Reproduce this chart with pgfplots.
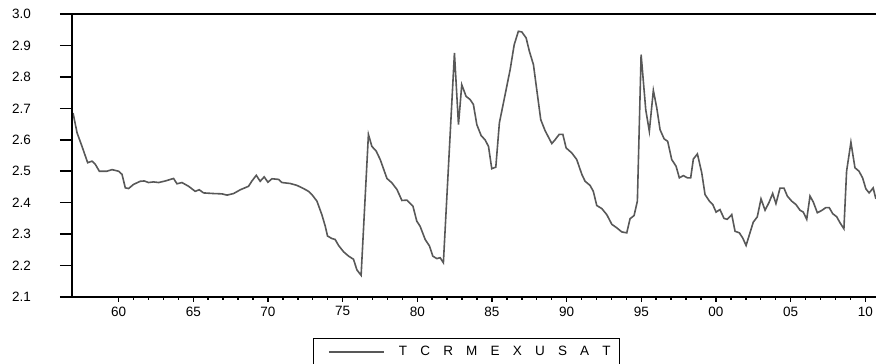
\documentclass[border=0pt]{standalone}
\usepackage{fontspec}
\setmainfont{Liberation Sans}
\usepackage{pgfplots}
\pgfplotsset{compat=1.18}
\definecolor{ser}{RGB}{88,88,88}
\newcommand{\gp}{\hspace{13.2bp}}
\begin{document}
\begin{tikzpicture}
\pgfplotsset{every axis/.append style={scale only axis, width=804bp, height=283bp,
  ymin=2.1, ymax=3.0, xmin=1956.88, xmax=2010.72}}
\begin{axis}[
  axis x line=box, axis y line=left,
  axis line style={-, line width=2bp, black},
  xtick={1960,1965,...,2010},
  xticklabels={60,65,70,75,80,85,90,95,00,05,10},
  minor x tick num=4,
  xtick pos=left, xtick align=outside,
  ytick=\empty,
  major tick length=5bp, minor tick length=3bp,
  tick style={black, line width=1.5bp},
  xticklabel style={font=\fontsize{13.5bp}{15bp}\selectfont, yshift=-1.2bp},
  legend style={at={(0.491,-0.146)}, anchor=north, draw=black, line width=1bp,
    inner xsep=0bp, inner ysep=7.5bp, font=\fontsize{13.5bp}{15bp}\selectfont,
    nodes={inner sep=0pt}},
  legend cell align=left,
  legend image code/.code={\draw[#1, line width=1.6bp] (0bp,0bp) -- (55bp,0bp); \path[draw=none] (-15bp,0bp) -- (70bp,0bp);},
]
\addplot[ser, line width=1.6bp] coordinates {
(1956.95,2.685) (1957.22,2.622) (1957.55,2.579) (1957.93,2.527) (1958.22,2.532)
(1958.44,2.522) (1958.71,2.500) (1959.22,2.500) (1959.56,2.505) (1960.0,2.500)
(1960.23,2.490) (1960.45,2.447) (1960.67,2.445) (1961.0,2.458) (1961.45,2.468)
(1961.72,2.469) (1962.0,2.464) (1962.34,2.466) (1962.68,2.464) (1963.13,2.469)
(1963.68,2.477) (1963.91,2.460) (1964.24,2.464) (1964.69,2.452) (1965.13,2.436)
(1965.40,2.441) (1965.69,2.431) (1966.36,2.429) (1966.92,2.428) (1967.26,2.424)
(1967.70,2.429) (1968.15,2.441) (1968.70,2.452) (1968.93,2.469) (1969.22,2.487)
(1969.48,2.468) (1969.75,2.482) (1970.0,2.465) (1970.27,2.476) (1970.71,2.474)
(1970.94,2.464) (1971.49,2.461) (1971.94,2.455) (1972.38,2.445) (1972.72,2.436)
(1972.94,2.426) (1973.28,2.405) (1973.61,2.362) (1973.84,2.325) (1973.99,2.294)
(1974.28,2.286) (1974.50,2.283) (1974.73,2.264) (1975.06,2.244) (1975.40,2.230)
(1975.73,2.220) (1975.96,2.186) (1976.24,2.169) (1976.73,2.617) (1976.96,2.579)
(1977.25,2.564) (1977.52,2.537) (1977.97,2.477) (1978.30,2.463) (1978.64,2.442)
(1978.97,2.407) (1979.30,2.408) (1979.71,2.389) (1979.97,2.341) (1980.19,2.325)
(1980.53,2.283) (1980.82,2.262) (1981.04,2.230) (1981.31,2.222) (1981.53,2.225)
(1981.75,2.209) (1982.49,2.876) (1982.76,2.648) (1982.98,2.775) (1983.27,2.738)
(1983.54,2.728) (1983.76,2.712) (1983.99,2.648) (1984.28,2.613) (1984.54,2.600)
(1984.77,2.579) (1984.99,2.508) (1985.26,2.513) (1985.50,2.654) (1985.77,2.717)
(1986.22,2.823) (1986.49,2.902) (1986.77,2.945) (1987.0,2.943) (1987.29,2.924)
(1987.51,2.881) (1987.78,2.839) (1988.0,2.760) (1988.27,2.664) (1988.56,2.629)
(1989.01,2.588) (1989.23,2.600) (1989.50,2.617) (1989.75,2.617) (1989.97,2.574)
(1990.35,2.558) (1990.68,2.537) (1991.02,2.490) (1991.24,2.468) (1991.57,2.455)
(1991.79,2.436) (1992.02,2.391) (1992.36,2.381) (1992.69,2.362) (1993.03,2.331)
(1993.36,2.320) (1993.69,2.307) (1994.03,2.304) (1994.25,2.349) (1994.52,2.359)
(1994.74,2.405) (1994.99,2.871) (1995.30,2.696) (1995.54,2.627) (1995.81,2.757)
(1996.04,2.701) (1996.26,2.632) (1996.53,2.603) (1996.77,2.595) (1997.04,2.537)
(1997.33,2.516) (1997.55,2.479) (1997.82,2.486) (1998.09,2.479) (1998.31,2.479)
(1998.49,2.539) (1998.76,2.555) (1999.05,2.495) (1999.27,2.426) (1999.56,2.405)
(1999.79,2.394) (2000.01,2.370) (2000.27,2.378) (2000.54,2.350) (2000.76,2.347)
(2001.06,2.362) (2001.28,2.309) (2001.57,2.304) (2001.79,2.288) (2002.02,2.264)
(2002.28,2.304) (2002.50,2.338) (2002.77,2.355) (2003.02,2.412) (2003.29,2.376)
(2003.55,2.400) (2003.80,2.429) (2004.02,2.397) (2004.29,2.446) (2004.56,2.446)
(2004.78,2.421) (2005.07,2.405) (2005.36,2.394) (2005.63,2.376) (2005.85,2.370)
(2006.08,2.347) (2006.30,2.421) (2006.52,2.402) (2006.79,2.368) (2007.08,2.375)
(2007.35,2.384) (2007.59,2.384) (2007.82,2.365) (2008.09,2.355) (2008.31,2.336)
(2008.57,2.317) (2008.75,2.500) (2009.04,2.592) (2009.31,2.511) (2009.58,2.500)
(2009.82,2.479) (2010.04,2.444) (2010.26,2.431) (2010.53,2.447) (2010.71,2.412)
};
\addlegendentry{T\gp C\gp R\gp M\gp E\gp X\gp U\gp S\gp A\gp T\hspace*{9bp}}
\coordinate (bl) at (rel axis cs:0,0);
\coordinate (tr) at (rel axis cs:1,1);
\end{axis}
\begin{axis}[
  axis x line=none, axis y line=left,
  axis line style={-, line width=2bp, black},
  xtick=\empty,
  ytick={2.1,2.2,...,3.01},
  ytick align=outside, major tick length=12bp,
  tick style={black, line width=1.5bp},
  /pgf/number format/assume math mode=true,
  yticklabel style={font=\fontsize{13.5bp}{15bp}\selectfont, xshift=-25.5bp,
    /pgf/number format/.cd, fixed, fixed zerofill, precision=1},
]
\end{axis}
\pgfresetboundingbox
\path[use as bounding box] ([shift={(-72bp,-67bp)}]bl) rectangle ([shift={(0bp,14bp)}]tr);
\end{tikzpicture}
\end{document}
